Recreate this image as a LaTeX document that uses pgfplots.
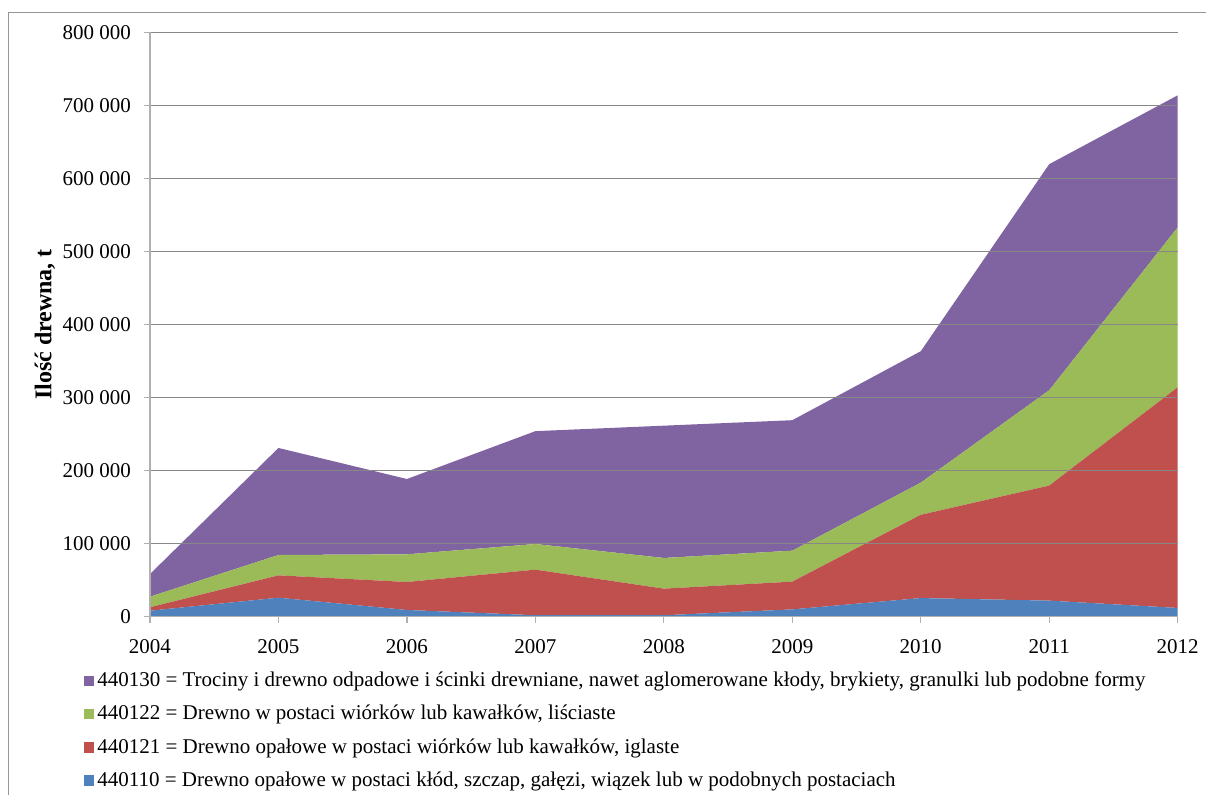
\documentclass[border=0pt]{standalone}
\usepackage{fontspec}
\setmainfont{Liberation Serif}
\usepackage{pgfplots}
\pgfplotsset{compat=1.18}
\usepackage{pgfplotstable}

\definecolor{cBlue}{HTML}{4F81BD}
\definecolor{cRed}{HTML}{C0504D}
\definecolor{cGreen}{HTML}{9BBB59}
\definecolor{cPurple}{HTML}{8064A2}
\definecolor{cGrid}{HTML}{878787}
\definecolor{cAxis}{HTML}{B0B0B0}
\definecolor{cFrame}{HTML}{969696}

\pgfplotstableread{
year  b110   r121    g122    p130
2004  8200   4700    14500   31000
2005  26000  30600   27900   146500
2006  9200   38300   37900   103100
2007  2000   62400   35100   154500
2008  2000   36400   42000   181100
2009  10000  38000   42400   178600
2010  25500  114000  44000   179900
2011  22000  157500  130500  309500
2012  12000  302000  219000  180700
}\data

\begin{document}
\begin{tikzpicture}
\useasboundingbox (-75pt,-88.65pt) rectangle (528pt,308.35pt);
\draw[cFrame, line width=0.6pt] (-70.65pt,-120pt) -- (-70.65pt,302pt) -- (620pt,302pt);
\begin{axis}[
  at={(0pt,0pt)}, anchor=south west,
  scale only axis,
  width=513.85pt, height=292.2pt,
  xmin=2004, xmax=2012,
  ymin=0, ymax=800000,
  axis lines*=left,
  axis line style={cAxis, line width=0.7pt},
  xtick={2004,2005,...,2012},
  ytick={0,100000,...,800000},
  tick align=outside,
  major tick length=3pt,
  tick style={cAxis, line width=0.6pt},
  ymajorgrids,
  grid style={cGrid, line width=0.5pt},
  scaled y ticks=false,
  /pgf/number format/.cd, fixed, precision=0, 1000 sep={\ }, assume math mode=true, /pgfplots/.cd,
  xticklabel={\pgfmathprintnumber[1000 sep={}]{\tick}},
  ticklabel style={font=\fontsize{10.5}{12}\selectfont, text=black},
  yticklabel style={xshift=-3pt},
  xticklabel style={yshift=-5pt},
  ylabel={Ilość drewna, t},
  ylabel style={font=\bfseries\fontsize{12}{14}\selectfont, at={(axis description cs:-0.1022,0.5)}, anchor=center},
  stack plots=y,
  area style,
  reverse legend,
  legend cell align=left,
  legend style={draw=none, fill=none, at={(axis description cs:-0.0649,-0.0887)}, anchor=north west,
     inner sep=0pt, row sep=4.8pt, font=\fontsize{10.5}{12}\selectfont,
     nodes={inner sep=1.5pt}},
  legend image code/.code={\fill[#1] (0pt,-2.65pt) rectangle (5.3pt,2.65pt);},
]
\addplot[fill=cBlue, draw=none] table[x=year, y=b110] {\data} \closedcycle;
\addlegendentry{440110 = Drewno opałowe w postaci kłód, szczap, gałęzi, wiązek lub w podobnych postaciach}
\addplot[fill=cRed, draw=none] table[x=year, y=r121] {\data} \closedcycle;
\addlegendentry{440121 = Drewno opałowe w postaci wiórków lub kawałków, iglaste}
\addplot[fill=cGreen, draw=none] table[x=year, y=g122] {\data} \closedcycle;
\addlegendentry{440122 = Drewno w postaci wiórków lub kawałków, liściaste}
\addplot[fill=cPurple, draw=none] table[x=year, y=p130] {\data} \closedcycle;
\addlegendentry{440130 = Trociny i drewno odpadowe i ścinki drewniane, nawet aglomerowane kłody, brykiety, granulki lub podobne formy}
\end{axis}
\end{tikzpicture}
\end{document}
